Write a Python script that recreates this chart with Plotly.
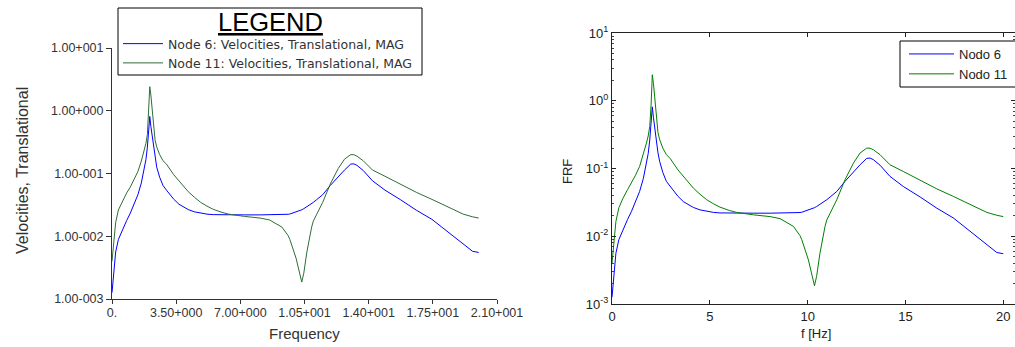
import plotly.graph_objects as go

# ---- data ----
freq = [0.0, 0.1, 0.2, 0.35, 0.56, 0.8, 1.0, 1.2, 1.41, 1.6, 1.76, 1.85, 1.93, 2.0, 2.06,
        2.12, 2.18, 2.27, 2.35, 2.44, 2.6, 2.78, 2.97, 3.37, 3.65, 4.16, 4.5, 4.84, 5.18,
        5.52, 6.0, 6.37, 7.23, 8.08, 8.59, 9.27, 9.61, 9.7, 10.04, 10.21, 10.29, 10.35,
        10.46, 10.63, 10.89, 10.98, 11.15, 11.49, 11.91, 12.34, 12.68, 13.02, 13.19, 13.36,
        13.7, 14.21, 14.89, 15.75, 16.6, 17.45, 18.3, 19.16, 19.67, 20.0]

node6 = [0.00126, 0.00251, 0.00562, 0.00891, 0.0126, 0.0178, 0.0234, 0.0324, 0.0457, 0.0708,
         0.120, 0.166, 0.263, 0.501, 0.813, 0.562, 0.417, 0.240, 0.170, 0.126, 0.0871,
         0.0646, 0.0543, 0.0389, 0.0324, 0.0266, 0.0245, 0.0232, 0.0225, 0.0221, 0.0219,
         0.0219, 0.0219, 0.0219, 0.0219, 0.0220, 0.0224, 0.0226, 0.0243, 0.0254, 0.0260,
         0.0264, 0.0275, 0.0295, 0.0331, 0.0346, 0.0380, 0.0458, 0.0646, 0.0904, 0.1135,
         0.141, 0.1426, 0.135, 0.112, 0.0764, 0.0543, 0.0380, 0.0260, 0.0186, 0.01175,
         0.0075, 0.00575, 0.00552]

node11 = [0.00398, 0.00891, 0.0166, 0.0263, 0.0363, 0.0490, 0.0610, 0.0794, 0.107, 0.158,
          0.237, 0.302, 0.417, 0.891, 2.42, 1.78, 1.16, 0.468, 0.339, 0.265, 0.200, 0.160,
          0.141, 0.0955, 0.0764, 0.0513, 0.0417, 0.0346, 0.0302, 0.0269, 0.0240, 0.0225,
          0.0207, 0.0195, 0.0182, 0.0140, 0.0102, 0.00891, 0.00447, 0.00288, 0.00224,
          0.00186, 0.00257, 0.00562, 0.0140, 0.0174, 0.0219, 0.0346, 0.0682, 0.120, 0.169,
          0.200, 0.1995, 0.189, 0.160, 0.1135, 0.0904, 0.0667, 0.0501, 0.0387, 0.0292,
          0.0225, 0.0204, 0.0195]

left_x_ticks = [0, 3.5, 7, 10.5, 14, 17.5, 21]
left_x_labels = ["0.", "3.50+000", "7.00+000", "1.05+001", "1.40+001", "1.75+001", "2.10+001"]
y_ticks = [0.001, 0.01, 0.1, 1, 10]
left_y_labels = ["1.00-003", "1.00-002", "1.00-001", "1.00+000", "1.00+001"]
right_y_labels = ["10<sup>-3</sup>", "10<sup>-2</sup>", "10<sup>-1</sup>", "10<sup>0</sup>", "10<sup>1</sup>"]
right_x_ticks = [0, 5, 10, 15, 20]
minor_y = [m * 10.0 ** e for e in range(-3, 1) for m in range(2, 10)]

W, H = 1015, 347
def px(x): return x / W
def py(y): return 1 - y / H

FONT = "Arial, Liberation Sans, sans-serif"
LFONT = "DejaVu Sans, Verdana, sans-serif"
fig = go.Figure()

fig.add_trace(go.Scatter(x=freq, y=node6, mode="lines", name="Node 6: Velocities, Translational, MAG",
                         line=dict(color="rgb(0,0,255)", width=1), xaxis="x", yaxis="y", legend="legend"))
fig.add_trace(go.Scatter(x=freq, y=node11, mode="lines", name="Node 11: Velocities, Translational, MAG",
                         line=dict(color="rgb(45,110,55)", width=1), xaxis="x", yaxis="y", legend="legend"))
fig.add_trace(go.Scatter(x=freq, y=node6, mode="lines", name="Nodo 6",
                         line=dict(color="rgb(0,0,255)", width=1), xaxis="x2", yaxis="y2", legend="legend2"))
fig.add_trace(go.Scatter(x=freq, y=node11, mode="lines", name="Nodo 11",
                         line=dict(color="rgb(0,128,0)", width=1), xaxis="x2", yaxis="y2", legend="legend2"))

fig.update_layout(
    width=W, height=H, margin=dict(l=0, r=0, t=0, b=0, pad=0, autoexpand=False),
    paper_bgcolor="white", plot_bgcolor="white",
    font=dict(family=FONT, size=12, color="#333"),
    xaxis=dict(domain=[px(112), px(497)], range=[0, 21], anchor="y", automargin=False,
               tickmode="array", tickvals=left_x_ticks, ticktext=left_x_labels,
               ticks="outside", ticklen=4, tickcolor="#333", showline=True, linecolor="#333",
               linewidth=1, showgrid=False, zeroline=False, ticklabelstandoff=-2,
               tickfont=dict(size=12.5, color="#333")),
    yaxis=dict(domain=[py(299), py(48)], type="log", range=[-3, 1], anchor="x", automargin=False,
               tickmode="array", tickvals=y_ticks, ticktext=left_y_labels,
               ticks="outside", ticklen=5, tickcolor="#333", showline=True, linecolor="#333",
               linewidth=1, showgrid=False, zeroline=False, tickfont=dict(size=12.5, color="#333")),
    xaxis2=dict(domain=[px(612), 1.0], range=[0, 20.6], anchor="y2", automargin=False,
                tickmode="array", tickvals=right_x_ticks,
                ticks="inside", ticklen=4, tickcolor="#222", showline=True, linecolor="#222",
                linewidth=1, mirror="allticks", showgrid=False, zeroline=False,
                tickfont=dict(size=13, color="#222")),
    yaxis2=dict(domain=[py(304), py(33)], type="log", range=[-3, 1], anchor="x2", automargin=False,
                tickmode="array", tickvals=y_ticks, ticktext=right_y_labels,
                ticks="inside", ticklen=4, tickcolor="#222", showline=True, linecolor="#222",
                linewidth=1, mirror="allticks", showgrid=False, zeroline=False,
                tickfont=dict(size=13, color="#222"),
                minor=dict(ticks="inside", ticklen=2, tickcolor="#444", tickvals=minor_y)),
    legend=dict(x=px(118), y=py(29), xanchor="left", yanchor="top",
                borderwidth=0, bgcolor="rgba(0,0,0,0)",
                font=dict(size=12.5, color="#333", family=LFONT), itemwidth=40,
                tracegroupgap=0),
    legend2=dict(x=px(904), y=py(39), xanchor="left", yanchor="top",
                 borderwidth=0, bgcolor="rgba(0,0,0,0)",
                 font=dict(size=13, color="#222", family=FONT), itemwidth=45),
    showlegend=True,
    shapes=[
        dict(type="rect", xref="paper", yref="paper", x0=px(118), x1=px(422), y0=py(75), y1=py(8),
             line=dict(color="black", width=1), fillcolor="white", layer="above"),
        dict(type="rect", xref="paper", yref="paper", x0=px(900), x1=px(1025), y0=py(87), y1=py(41),
             line=dict(color="black", width=1), fillcolor="white", layer="above"),
    ],
    annotations=[
        dict(text="<u>LEGEND</u>", x=px(270), y=py(22), xref="paper", yref="paper",
             xanchor="center", yanchor="middle", showarrow=False,
             font=dict(size=25.5, color="black", family=FONT)),
        dict(text="Velocities, Translational", x=px(22), y=py(171), xref="paper", yref="paper",
             xanchor="center", yanchor="middle",
             textangle=-90, showarrow=False, font=dict(size=16, color="#333", family=FONT)),
        dict(text="Frequency", x=px(304), y=py(333), xref="paper", yref="paper",
             xanchor="center", yanchor="middle",
             showarrow=False, font=dict(size=15, color="#333", family=FONT)),
        dict(text="FRF", x=px(567), y=py(172), xref="paper", yref="paper",
             xanchor="center", yanchor="middle",
             textangle=-90, showarrow=False, font=dict(size=13, color="#222", family=FONT)),
        dict(text="f [Hz]", x=px(816), y=py(333), xref="paper", yref="paper",
             xanchor="center", yanchor="middle",
             showarrow=False, font=dict(size=13, color="#222", family=FONT)),
    ],
)

fig.write_html("out.html")
